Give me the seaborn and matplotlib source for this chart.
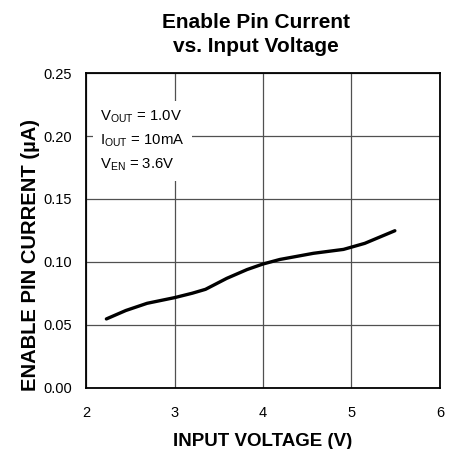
import matplotlib
matplotlib.use("Agg")
import matplotlib.pyplot as plt
import seaborn as sns
import pandas as pd

# values
input_voltage = [2.23, 2.45, 2.69, 3.00, 3.20, 3.35, 3.59, 3.82, 4.00, 4.19, 4.57, 4.91, 5.15, 5.49]
pin_current = [0.0548, 0.0615, 0.0672, 0.0717, 0.0752, 0.0783, 0.0870, 0.0940, 0.0984, 0.1020, 0.1069, 0.1100, 0.1148, 0.1248]
x_ticks = [2, 3, 4, 5, 6]
y_ticks = [0.00, 0.05, 0.10, 0.15, 0.20, 0.25]
conditions = [r"$\mathregular{V_{OUT}}$ = 1.0V",
              r"$\mathregular{I_{OUT}}$ = 10mA",
              r"$\mathregular{V_{EN}}$ = 3.6V"]

df = pd.DataFrame({"vin": input_voltage, "ien": pin_current})

sns.set_theme(style="white")
plt.rcParams["font.family"] = ["Liberation Sans", "DejaVu Sans"]
plt.rcParams["mathtext.fontset"] = "custom"
plt.rcParams["mathtext.rm"] = "Liberation Sans"
plt.rcParams["text.color"] = "black"
plt.rcParams["axes.labelcolor"] = "black"

fig = plt.figure(figsize=(4.61, 4.49), dpi=100)
ax = fig.add_axes([0.1866, 0.1359, 0.7678, 0.7015])

sns.lineplot(data=df, x="vin", y="ien", ax=ax, color="black", linewidth=2.4, zorder=3)

ax.set_xlim(2, 6)
ax.set_ylim(0, 0.25)
ax.set_xticks(x_ticks)
ax.set_yticks(y_ticks)
ax.set_yticklabels([f"{v:.2f}" for v in y_ticks])
ax.tick_params(axis="both", labelsize=10.5, length=0, colors="black")
ax.tick_params(axis="x", pad=13)
ax.tick_params(axis="y", pad=10)
ax.grid(True, color="#505050", linewidth=0.9)
ax.set_axisbelow(True)
for s in ax.spines.values():
    s.set_color("black")
    s.set_linewidth(1.3)

ax.set_xlabel("INPUT VOLTAGE (V)", fontsize=13.5, fontweight="bold", labelpad=9)
ax.set_ylabel("ENABLE PIN CURRENT (\u00b5A)", fontsize=14.5, fontweight="bold")
ax.yaxis.set_label_coords(-0.13, 0.422)
fig.text(0.5547, 0.924, "Enable Pin Current\nvs. Input Voltage", fontsize=15, fontweight="bold",
         ha="center", va="center", linespacing=1.32)

ax.text(0.04, 0.785, "\n".join(conditions), transform=ax.transAxes, fontsize=10.7,
        va="center", ha="left", linespacing=1.65, zorder=4,
        bbox=dict(facecolor="white", edgecolor="none", pad=5.5))

fig.savefig("out.png", dpi=100)
